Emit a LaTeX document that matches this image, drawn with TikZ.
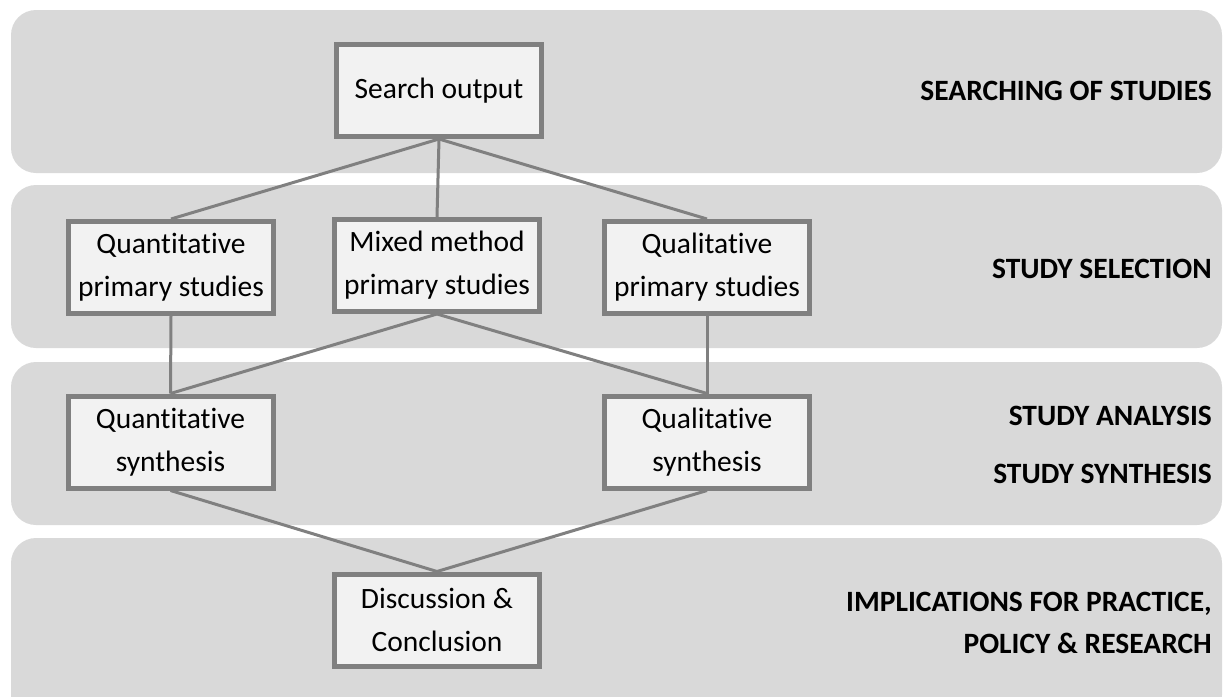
\documentclass[tikz,border=0pt]{standalone}
\usepackage{fontspec}
\setmainfont{Carlito}[Ligatures=NoCommon]
\definecolor{bandgray}{HTML}{D9D9D9}
\definecolor{boxgray}{HTML}{808080}
\definecolor{boxfill}{HTML}{F2F2F2}
\begin{document}
\begin{tikzpicture}[x=1pt,y=-1pt,
  band/.style={fill=bandgray, draw=none, rounded corners=25pt},
  stagebox/.style={draw=boxgray, line width=5pt, fill=boxfill,
    minimum width=205pt, minimum height=92pt, inner sep=0pt, align=center,
    font=\fontsize{29.5}{43}\selectfont},
  link/.style={draw=boxgray, line width=3pt},
  phase/.style={anchor=base east, inner sep=0pt, font=\fontsize{29.5}{35}\selectfont\bfseries}]
\useasboundingbox (0,0) rectangle (1223,696);
\clip (0,0) rectangle (1223,696);
% bands
\path[band] (11,10) rectangle (1222,173);
\path[band] (11,185) rectangle (1222,348);
\path[band] (11,362) rectangle (1222,525);
\path[band] (11,538) rectangle (1222,720);
% boxes
\node[stagebox] (search) at (439,90.5) {Search output};
\node[stagebox] (quantp) at (171,267.5) {Quantitative\\primary studies};
\node[stagebox] (mixed) at (437,265.5) {Mixed method\\primary studies};
\node[stagebox] (qualp) at (707,267.5) {Qualitative\\primary studies};
\node[stagebox] (quants) at (170.5,442) {Quantitative\\synthesis};
\node[stagebox] (quals) at (707,442) {Qualitative\\synthesis};
\node[stagebox] (disc) at (437,620) {Discussion \&\\Conclusion};
% connectors
\draw[link] (search.south) -- (quantp.north);
\draw[link] (search.south) -- (mixed.north);
\draw[link] (search.south) -- (qualp.north);
\draw[link] (quantp.south) -- (quants.north);
\draw[link] (qualp.south) -- (quals.north);
\draw[link] (mixed.south) -- (quants.north);
\draw[link] (mixed.south) -- (quals.north);
\draw[link] (quants.south) -- (disc.north);
\draw[link] (quals.south) -- (disc.north);
% phase labels
\node[phase] (l1) at (1212,100) {SEARCHING OF STUDIES};
\node[phase] (l2) at (1212,278) {STUDY SELECTION};
\node[phase] (l3) at (1212,425) {STUDY ANALYSIS};
\node[phase] (l4) at (1212,483) {STUDY SYNTHESIS};
\node[phase] (l5) at (1212,611) {IMPLICATIONS FOR PRACTICE,};
\node[phase] (l6) at (1212,653) {POLICY \& RESEARCH};
\end{tikzpicture}
\end{document}
